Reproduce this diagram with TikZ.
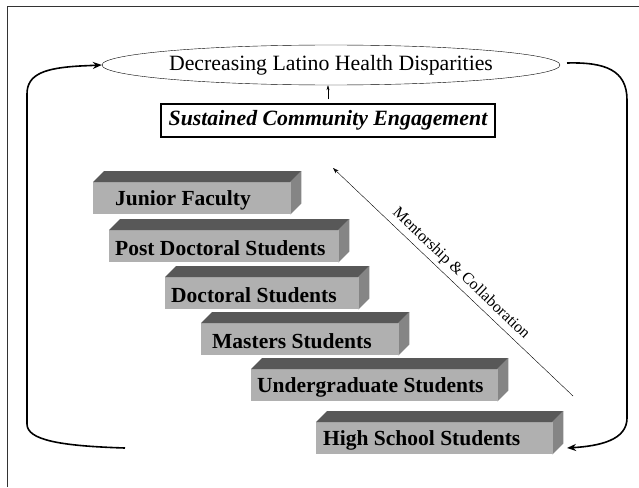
\documentclass[tikz,border=0pt]{standalone}
\usepackage{fontspec}
\setmainfont{Liberation Serif}
\usetikzlibrary{positioning, shapes.geometric, arrows.meta}

\definecolor{barfront}{HTML}{B0B0B0}
\definecolor{bartop}{HTML}{585858}
\definecolor{barside}{HTML}{858585}

\begin{document}
\begin{tikzpicture}[x=1pt, y=-1pt]
    \tikzstyle{goal} = [draw, ellipse, thin, minimum width=404, minimum height=40, inner sep=0, font=\fontsize{21.8}{24}\selectfont];
    \tikzstyle{engage} = [draw, rectangle, line width=1.5pt, minimum width=334, minimum height=33, inner sep=0, font=\fontsize{21.8}{24}\selectfont\bfseries\itshape];
    \tikzstyle{bar} = [fill=barfront, minimum height=32, inner sep=0, anchor=north west];
    \tikzstyle{barlabel} = [inner sep=0, yshift=-2pt, font=\fontsize{21.5}{24}\selectfont\bfseries];
    \tikzstyle{loop} = [line width=1.6pt, -{Stealth[length=9pt, width=7pt]}];

    \useasboundingbox (0,0) rectangle (639,487);
    \draw[line width=1pt, black!80] (7,487) -- (7,7) -- (639,7);

    \node[goal] at (331,65) (dlhd) {Decreasing Latino Health Disparities};
    \node[engage] at (328,120.5) (sce) {Sustained Community Engagement};
    \draw[-{Stealth[length=5pt, width=3pt]}, shorten <=4pt] (sce.north) -- (sce.north |- dlhd.south);

    % steps, front faces first
    \node[bar, minimum width=197] at (93,182) (jf) {};
    \node[bar, minimum width=229] at (109,230) (pd) {};
    \node[bar, minimum width=193] at (165,277) (ds) {};
    \node[bar, minimum width=197] at (201,323) (ms) {};
    \node[bar, minimum width=246] at (251,369) (ug) {};
    \node[bar, minimum width=236] at (316,422) (hs) {};

    \foreach \b in {jf,pd,ds,ms,ug,hs} {
        \fill[bartop] (\b.north west) -- ++(11,-11) -- ([shift={(11,-11)}]\b.north east) -- (\b.north east) -- cycle;
        \fill[barside] (\b.north east) -- ++(11,-11) -- ([shift={(11,-11)}]\b.south east) -- (\b.south east) -- cycle;
    }

    \node[barlabel, right=22 of jf.west] (jfl) {Junior Faculty};
    \node[barlabel, right=6 of pd.west] (pdl) {Post Doctoral Students};
    \node[barlabel, right=6 of ds.west] (dsl) {Doctoral Students};
    \node[barlabel, right=11 of ms.west] (msl) {Masters Students};
    \node[barlabel, right=6 of ug.west] (ugl) {Undergraduate Students};
    \node[barlabel, right=7 of hs.west] (hsl) {High School Students};

    \coordinate (mlow) at (573,396);
    \coordinate (mhigh) at (333,168);
    \draw[thin, -{Stealth[length=6pt, width=4pt]}] (mlow) -- node[sloped, above, pos=0.5, inner sep=4pt, font=\fontsize{16}{18}\selectfont] (mclab) {Mentorship \& Collaboration} (mhigh);

    % feedback loop
    \coordinate (lstart) at (125,448);
    \coordinate (rstart) at (567,63);
    \coordinate (rend) at (567,448);
    \draw[loop] (lstart) .. controls (60,446) and (27,440) .. (27,424) -- (27,94) .. controls (27,74) and (45,68) .. (80,66) -- (dlhd.west);
    \draw[loop] (rstart) .. controls (605,62) and (627,70) .. (627,100) -- (627,418) .. controls (627,440) and (600,446) .. (rend);
\end{tikzpicture}
\end{document}
